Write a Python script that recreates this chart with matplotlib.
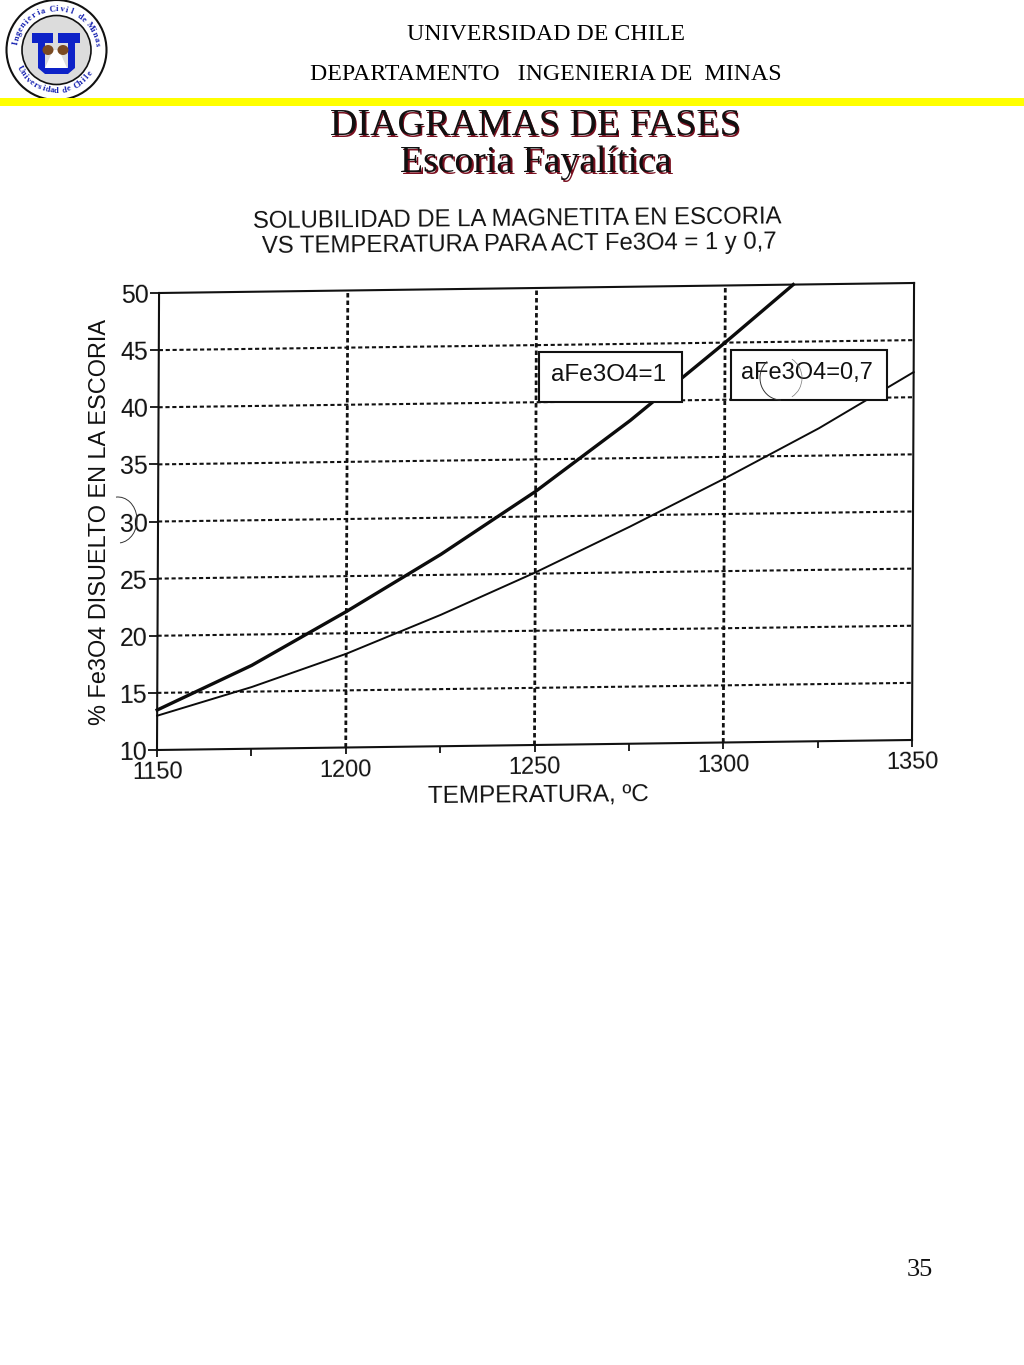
import numpy as np
import matplotlib
matplotlib.use("Agg")
import matplotlib.pyplot as plt
from matplotlib.patches import Rectangle, Circle, Arc, Polygon, Ellipse
from matplotlib.transforms import Affine2D
from matplotlib.ticker import FixedLocator, FixedFormatter

# ---- data ----
temp_a1 = [1150, 1175, 1200, 1225, 1250, 1275, 1300, 1318]
sol_a1 = [13.5, 17.3, 21.9, 26.8, 32.2, 38.3, 45.0, 50.0]
temp_a07 = [1150, 1175, 1200, 1225, 1250, 1275, 1300, 1325, 1350]
sol_a07 = [13.0, 15.4, 18.2, 21.5, 25.1, 29.0, 33.1, 37.4, 42.2]
x_ticks = [1150, 1200, 1250, 1300, 1350]
x_minor = [1175, 1225, 1275, 1325]
y_ticks = [10, 15, 20, 25, 30, 35, 40, 45, 50]
x_grid_hide = [1150, 1350]
y_grid_hide = [10, 50]
label_a1 = "aFe3O4=1"
label_a07 = "aFe3O4=0,7"
chart_title = ["SOLUBILIDAD DE LA MAGNETITA EN ESCORIA", "VS TEMPERATURA PARA ACT Fe3O4 = 1 y 0,7"]
x_label = "TEMPERATURA, ºC"
y_label = "% Fe3O4 DISUELTO EN LA ESCORIA"

W, H = 1024, 1365
fig = plt.figure(figsize=(W/100, H/100), dpi=100, facecolor="white")
SANS = "Liberation Sans"
SERIF = "Liberation Serif"
INK = "#111111"

# scanned page is slightly tilted: plot axes sit in a small skew
L, R, T, B = 157, 912, 293, 750
ax = fig.add_axes([L/W, (H-B)/H, (R-L)/W, (B-T)/H])
k1, k2 = 0.0045, 10/754
y0 = H - B
skew = Affine2D(np.array([[1, k1, -k1*y0], [k2, 1, -k2*L], [0, 0, 1]]))

ax.set_xlim(1150, 1350)
ax.set_ylim(10, 50)
ax.patch.set_visible(False)
ax.xaxis.set_major_locator(FixedLocator(x_ticks))
ax.xaxis.set_minor_locator(FixedLocator(x_minor))
ax.yaxis.set_major_locator(FixedLocator(y_ticks))
ax.xaxis.set_major_formatter(FixedFormatter([str(v) for v in x_ticks]))
ax.yaxis.set_major_formatter(FixedFormatter([str(v) for v in y_ticks]))
ax.tick_params(axis="x", which="both", length=5, width=1.3, color=INK, pad=3.5, labelsize=17, labelcolor=INK)
ax.tick_params(axis="y", which="major", length=6.5, width=1.3, color=INK, pad=1, labelsize=18, labelcolor=INK)
for lbl in ax.get_xticklabels() + ax.get_yticklabels():
    lbl.set_family(SANS)

ax.grid(True, axis="y", which="major", color=INK, lw=1.5, ls=(0, (2.0, 1.3)))
ax.grid(True, axis="x", which="major", color=INK, lw=2.0, ls=(0, (1.6, 1.1)))

ax.plot(temp_a1, sol_a1, color="#0c0c0c", lw=2.4, clip_on=False, transform=ax.transData + skew, zorder=3)
ax.plot(temp_a07, sol_a07, color="#0c0c0c", lw=1.4, clip_on=False, transform=ax.transData + skew, zorder=3)

for spine in ax.spines.values():
    spine.set_transform(spine.get_spine_transform() + skew)
    spine.set_linewidth(1.5)
    spine.set_edgecolor(INK)

for axis in (ax.xaxis, ax.yaxis):
    for tick in axis.get_major_ticks() + axis.get_minor_ticks():
        for art in (tick.tick1line, tick.gridline, tick.label1):
            art.set_transform(art.get_transform() + skew)
            art.set_clip_on(False)
        tick.label1.set_rotation(0.8)
        tick.label1.set_rotation_mode("anchor")

for tick, v in zip(ax.xaxis.get_major_ticks(), x_ticks):
    if v in x_grid_hide:
        tick.gridline.set_visible(False)
for tick, v in zip(ax.yaxis.get_major_ticks(), y_ticks):
    if v in y_grid_hide:
        tick.gridline.set_visible(False)

# ---- overlay in page pixels ----
pg = fig.add_axes([0, 0, 1, 1], zorder=5)
pg.set_xlim(0, W)
pg.set_ylim(H, 0)
pg.axis("off")
pg.patch.set_visible(False)

# logo
cx, cy = 56.5, 50
pg.add_patch(Circle((cx, cy), 50, fc="white", ec="#111111", lw=1.5))
pg.add_patch(Circle((cx, cy), 34.5, fc="#dcdcdc", ec="#111111", lw=1.2))
u = [(32, 33), (53, 33), (53, 43), (45, 43), (45, 68), (68, 68), (68, 43), (58, 43), (58, 33), (80, 33), (80, 43),
     (75, 43), (75, 68), (68, 74), (45, 74), (38, 68), (38, 43), (32, 43)]
pg.add_patch(Polygon(u, closed=True, fc="#0d22c8", ec="none"))
pg.add_patch(Polygon([(53, 50), (59, 50), (67, 68), (45, 68)], closed=True, fc="white", ec="none"))
pg.add_patch(Ellipse((48, 50), 11, 10, fc="#7a4a22", ec="none"))
pg.add_patch(Ellipse((63, 50), 11, 10, fc="#7a4a22", ec="none"))
def ring(text, a_start, a_end, r, top=True):
    angs = np.linspace(a_start, a_end, len(text))
    for ch, a in zip(text, angs):
        t = np.deg2rad(a)
        pg.text(cx + r*np.cos(t), cy - r*np.sin(t), ch, rotation=(a - 90) if top else (a + 90),
                ha="center", va="center", fontsize=6.2, family=SERIF, weight="bold", color="#1420b0")
ring("Ingeniería Civil de Minas", 170, 8, 41, True)
ring("Universidad de Chile", 208, 325, 41, False)

pg.add_patch(Rectangle((0, 98), W, 8, fc="#ffff00", ec="none"))

pg.text(546, 35, "UNIVERSIDAD DE CHILE", ha="center", va="center", family=SERIF, fontsize=17.2, color="black")
pg.text(546, 74, "DEPARTAMENTO   INGENIERIA DE  MINAS", ha="center", va="center", family=SERIF, fontsize=17.2, color="black")

for dx, col in ((1.8, "#7a1020"), (0, "#101010")):
    pg.text(535 + dx, 126 + dx, "DIAGRAMAS DE FASES", ha="center", va="center", family=SERIF, fontsize=27.4, color=col)
    pg.text(535.5 + dx, 163 + dx, "Escoria Fayalítica", ha="center", va="center", family=SERIF, fontsize=27.2, color=col)

pg.text(517, 220, chart_title[0], ha="center", va="center", family=SANS, fontsize=17.2, color=INK, rotation=0.5, rotation_mode="anchor")
pg.text(519, 245, chart_title[1], ha="center", va="center", family=SANS, fontsize=17.2, color=INK, rotation=0.5, rotation_mode="anchor")
pg.text(538, 796, x_label, ha="center", va="center", family=SANS, fontsize=17.5, color=INK, rotation=0.5, rotation_mode="anchor")
pg.text(100, 522, y_label, ha="center", va="center", family=SANS, fontsize=16.9, color=INK, rotation=90, rotation_mode="anchor")

pg.add_patch(Rectangle((539, 352), 143, 50, fc="white", ec=INK, lw=1.5, zorder=4))
pg.add_patch(Rectangle((731, 350), 156, 50, fc="white", ec=INK, lw=1.5, zorder=4))
pg.text(609, 375, label_a1, ha="center", va="center", family=SANS, fontsize=17.5, color=INK, zorder=5)
pg.text(806.5, 373, label_a07, ha="center", va="center", family=SANS, fontsize=17, color=INK, zorder=5)

# faint pen circles of the scan
pg.add_patch(Arc((118, 520), 38, 46, theta1=-95, theta2=85, ec="#333333", lw=0.7))
pg.add_patch(Arc((781, 378), 42, 44, theta1=90, theta2=230, ec="#333333", lw=0.7, zorder=6))
pg.add_patch(Arc((781, 378), 42, 44, theta1=-60, theta2=60, ec="#777777", lw=0.5, zorder=6))

pg.text(920, 1270, "35", ha="center", va="center", family=SERIF, fontsize=19, color="#111111")

fig.savefig("out.png", dpi=100, facecolor="white")
